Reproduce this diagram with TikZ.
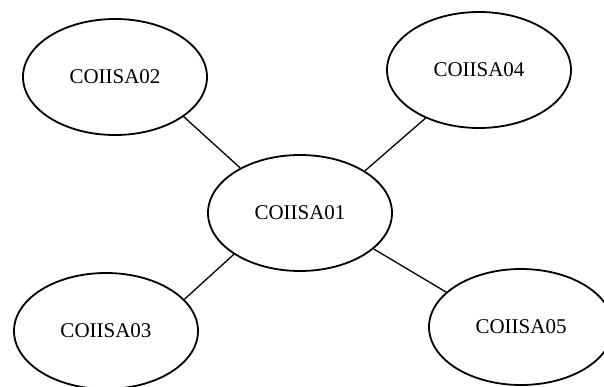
\documentclass[tikz,border=0pt]{standalone}
\usepackage{fontspec}
\setmainfont{Liberation Serif}
\usetikzlibrary{shapes.geometric}

\begin{document}
\begin{tikzpicture}[x=1pt,y=-1pt,
	site/.style={draw,ellipse,line width=1.8pt,minimum width=184pt,minimum height=116pt,inner sep=0pt,font=\fontsize{21}{25}\selectfont},
	link/.style={line width=1.3pt}]
	\useasboundingbox (0,0) rectangle (604,387);
	\node[site] (c01) at (300,213) {COIISA01};
	\node[site] (c02) at (115,77) {COIISA02};
	\node[site] (c04) at (479,70) {COIISA04};
	\node[site] (c03) at (106,331) {COIISA03};
	\node[site] (c05) at (521,327) {COIISA05};
	\draw[link] (c02.-30) -- (c01.143);
	\draw[link] (c04.-138) -- (c01.33);
	\draw[link] (c03.22) -- (c01.212);
	\draw[link] (c05.155) -- (c01.-26);
\end{tikzpicture}
\end{document}
